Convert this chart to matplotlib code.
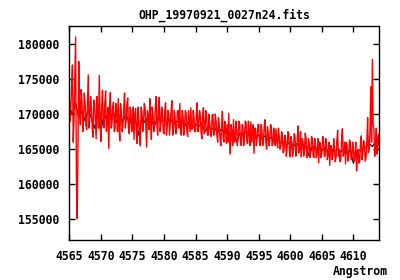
import matplotlib
matplotlib.use("Agg")
import matplotlib.pyplot as plt
import numpy as np

title = "OHP_19970921_0027n24.fits"
xlabel = "Angstrom"

# wavelength grid (Angstrom) of the spectra
red_start, red_step = 4565.0, 0.125
black_start, black_step = 4565.0, 0.5

# red spectrum, thousands of counts: samples at even steps ...
red_even_k = [
    172.5, 171.0, 177.0, 169.5, 181.0, 155.1, 177.5, 168.5,
    172.0, 169.0, 171.5, 167.8, 175.6, 169.5, 171.0, 166.7, 171.5, 166.5,
    170.5, 175.5, 166.1, 173.4, 168.0, 173.3, 169.0, 165.1, 173.1,
    168.5, 171.7, 168.0, 170.5, 172.2, 166.2, 170.0, 168.5, 173.0, 169.0,
    172.3, 167.2, 170.5, 168.0, 166.4, 170.8, 165.8, 169.5, 165.5, 170.5,
    168.5, 171.0, 165.3, 169.5, 172.2, 166.4, 170.0, 168.2, 172.5, 167.0,
    172.4, 168.5,
    170.5, 167.2, 171.6, 168.0, 170.0, 168.8, 171.9, 167.5, 169.5, 168.0,
    170.5, 171.5, 167.0, 169.8, 168.4, 170.2, 166.8, 169.0, 170.9, 168.0,
    169.5, 167.5, 171.6, 168.5, 169.8, 166.5, 170.9, 168.0, 169.4, 167.0,
    168.8, 166.8, 170.0, 167.5, 169.0, 166.0, 168.5, 165.5,
    170.4, 166.0, 168.0, 168.5, 170.1, 164.3, 167.5, 169.2, 166.2, 168.0,
    166.8, 168.5, 165.5, 168.2, 167.0, 168.8, 165.8, 167.5, 168.9, 167.0,
    164.4, 168.0, 166.5, 168.5, 165.5, 167.8, 166.0, 169.2, 165.0, 167.5,
    166.2, 168.2, 165.8, 167.0, 167.9, 165.2, 166.8, 165.5,
    167.0, 164.8, 166.5, 165.2, 167.3, 163.9, 166.0, 165.0, 166.8, 164.5,
    168.3, 165.0, 163.9, 166.2, 165.0, 166.5, 164.2, 165.8, 164.8, 166.3,
    163.8, 165.5, 164.5, 163.1, 165.8, 164.6, 166.6, 164.0, 165.5, 164.2,
    162.7,
    165.5, 164.0, 165.0, 163.8, 167.7, 165.0, 163.5, 167.9, 164.5, 162.9,
    165.5, 164.0, 166.0, 163.5, 165.0, 164.2, 161.9, 165.0, 163.3, 166.9,
    164.5, 165.5, 163.7,
    169.5, 165.0, 173.9, 177.8, 167.8, 165.5, 164.3, 167.1, 165.5,
]
# ... and the samples lying between them
red_odd_k = [
    169.0, 174.5, 166.0, 175.0, 160.9, 165.0, 171.0, 173.5,
    167.5, 173.0, 168.5, 171.5, 168.0, 172.5, 168.0, 172.0, 169.0, 172.5,
    168.0, 169.5, 171.0, 169.0, 171.5, 167.5, 171.0, 170.5, 168.0,
    171.0, 167.5, 171.5, 167.5, 168.0, 171.5, 167.5, 171.0, 168.0, 171.5,
    168.0, 171.0, 167.5, 171.0, 170.0, 167.5, 171.0, 167.0, 171.0, 167.5,
    171.5, 168.0, 170.5, 167.8, 169.0, 171.0, 167.5, 171.0, 168.5, 171.0,
    167.5, 171.0,
    167.5, 170.5, 167.0, 170.5, 167.0, 170.5, 167.0, 170.5, 167.2, 170.5,
    168.0, 167.5, 170.5, 167.0, 170.5, 167.5, 170.5, 167.5, 167.8, 170.5,
    167.5, 170.0, 167.5, 170.5, 167.3, 170.0, 167.2, 170.5, 167.0, 170.0,
    167.0, 169.8, 167.0, 170.0, 167.0, 169.5, 166.5, 168.5,
    166.5, 169.0, 165.8, 166.0, 166.5, 168.5, 165.5, 166.0, 169.0, 165.5,
    169.0, 165.8, 168.5, 165.5, 169.0, 166.0, 169.0, 165.5, 166.0, 168.5,
    168.0, 165.5, 168.5, 165.8, 168.5, 165.5, 168.5, 166.0, 168.2, 165.5,
    168.5, 165.5, 168.0, 165.5, 166.0, 168.0, 165.0, 167.5,
    164.5, 167.0, 164.0, 167.5, 164.5, 166.8, 164.0, 167.2, 164.0, 166.8,
    164.5, 167.5, 166.5, 164.0, 167.3, 163.8, 166.5, 163.8, 166.8, 164.0,
    166.5, 163.8, 166.5, 166.0, 163.8, 166.8, 164.0, 166.5, 163.5, 166.0,
    165.5,
    163.5, 166.5, 163.2, 166.2, 164.0, 163.2, 166.3, 164.0, 166.0, 166.0,
    163.3, 166.3, 163.5, 166.0, 163.3, 166.0, 164.0, 163.0, 166.0, 163.5,
    166.2, 163.3, 166.0,
    164.5, 167.5, 166.0, 168.5, 164.0, 168.0, 166.5, 164.8, 166.5,
]

# black spectrum, thousands of counts
black_flux_k = [
    171.0, 170.0, 171.5, 169.5, 170.5, 169.0,
    170.5, 169.5, 168.0, 170.0, 167.5, 170.0, 169.0,
    169.5, 170.2, 168.8, 169.8, 169.0, 170.0, 168.5, 169.6, 169.0, 167.0,
    169.5, 168.8, 169.7, 169.0, 168.4, 169.5, 168.9, 169.2,
    168.8, 169.3, 168.5, 169.0, 168.7, 169.2, 168.3, 168.9, 168.0, 168.6,
    168.2, 168.7, 167.5, 168.3, 167.8, 168.0, 167.4, 167.8,
    167.5, 168.0, 167.2, 167.6, 166.0, 167.3, 167.0, 167.5, 166.8, 167.2,
    166.6, 167.0, 166.5, 166.9, 166.3, 166.7, 166.0, 166.4, 165.9,
    166.0, 165.6, 166.1, 165.4, 165.8, 165.2, 165.7, 165.3, 164.0, 165.4,
    165.0, 165.3, 164.8, 165.2, 164.6, 165.0, 164.7, 165.0,
    164.6, 165.0, 164.4, 164.9, 163.0, 164.7, 164.8, 165.0, 165.3, 165.8,
    165.4, 166.0, 165.6,
]

xticks = [4565, 4570, 4575, 4580, 4585, 4590, 4595, 4600, 4605, 4610]
yticks = [155000, 160000, 165000, 170000, 175000, 180000]

red_flux = np.empty(2 * len(red_even_k))
red_flux[0::2] = red_even_k
red_flux[1::2] = red_odd_k
red_flux *= 1000.0
black_flux = np.array(black_flux_k) * 1000.0
red_wave = red_start + red_step * np.arange(len(red_flux))
black_wave = black_start + black_step * np.arange(len(black_flux))

font = {"family": "DejaVu Sans Mono", "weight": "bold", "size": 8.3}

W, H = 400, 280
fig = plt.figure(figsize=(W / 100, H / 100), dpi=100)
ax = fig.add_axes([69.3 / W, 40 / H, 310 / W, 214.3 / H])

ax.plot(black_wave, black_flux, color="black", lw=0.9)
ax.plot(red_wave, red_flux, color="#ff0000", lw=1.0)

ax.set_xlim(4565.0, 4614.1)
ax.set_ylim(152050, 182600)
ax.set_xticks(xticks)
ax.set_yticks(yticks)
ax.set_xticklabels([str(t) for t in xticks], fontdict=font)
ax.set_yticklabels([str(t) for t in yticks], fontdict=font)
ax.tick_params(direction="in", length=4, width=1, top=True, right=True,
               colors="black")
ax.tick_params(axis="x", pad=7)
ax.tick_params(axis="y", pad=7)
for s in ax.spines.values():
    s.set_linewidth(1)
    s.set_color("black")

ax.set_title(title, fontdict=font, pad=5)
fig.text(388 / W, (H - 271) / H, xlabel, ha="right", va="center", **font)

fig.savefig("out.png", dpi=100)
